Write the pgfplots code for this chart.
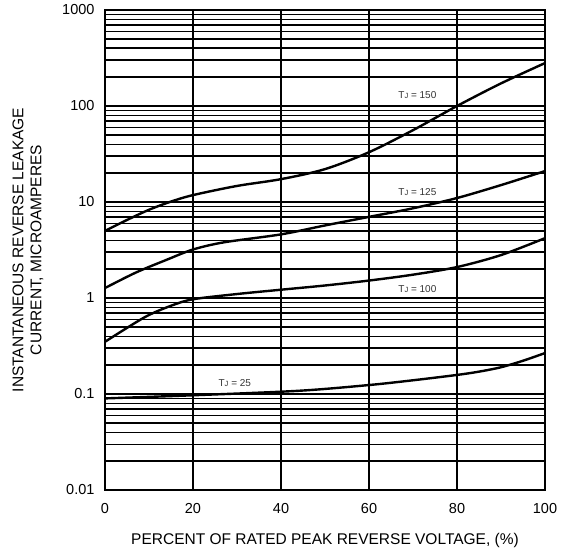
\documentclass[border=0pt]{standalone}
\usepackage{fontspec}
\setmainfont{Liberation Sans}
\usepackage{pgfplots}
\pgfplotsset{compat=1.18}

\newcommand{\tj}[1]{T{\fontsize{7.5}{8}\selectfont J} = #1}

\begin{document}
\begin{tikzpicture}
\begin{axis}[
  scale only axis, width=440pt, height=480pt,
  ymode=log, xmin=0, xmax=100, ymin=0.01, ymax=1000,
  xtick={0,20,40,60,80,100},
  ytick={0.01,0.1,1,10,100,1000},
  yticklabels={0.01,0.1,1,10,100,1000},
  /pgf/number format/assume math mode=true,
  tick label style={font=\fontsize{14.5}{16}\selectfont},
  xticklabel style={yshift=-10pt},
  yticklabel style={xshift=-7pt},
  major tick length=0pt, minor tick length=0pt,
  xmajorgrids, ymajorgrids, yminorgrids,
  y grid style={black, line width=1.4pt},
  minor y grid style={black, line width=1.4pt},
  x grid style={black, line width=1.1pt},
  axis line style={line width=1.6pt},
  xlabel={PERCENT OF RATED PEAK REVERSE VOLTAGE, (\%)},
  ylabel={INSTANTANEOUS REVERSE LEAKAGE\\CURRENT, MICROAMPERES},
  label style={font=\fontsize{15.5}{18}\selectfont},
  xlabel style={at={([yshift=-50pt]axis description cs:0.5,0)}, anchor=center},
  ylabel style={at={([xshift=-77pt]axis description cs:0,0.5)}, anchor=center, align=center},
]
% TJ = 150
\addplot[black, line width=2.4pt, smooth] coordinates {(0,5.0) (5,6.5) (10,8.3) (15,10.1) (20,11.8) (30,14.7) (40,17.3) (50,22) (60,33) (70,56) (80,100) (90,172) (100,280)};
% TJ = 125
\addplot[black, line width=2.4pt, smooth] coordinates {(0,1.27) (7,1.84) (14,2.5) (20,3.2) (27,3.8) (40,4.6) (50,5.7) (60,7.0) (70,8.6) (80,11) (90,15) (100,21)};
% TJ = 100
\addplot[black, line width=2.4pt, smooth] coordinates {(0,0.35) (9,0.63) (15,0.83) (20,0.97) (30,1.1) (40,1.22) (50,1.35) (60,1.52) (70,1.75) (80,2.1) (90,2.8) (100,4.2)};
% TJ = 25
\addplot[black, line width=2.4pt, smooth] coordinates {(0,0.09) (20,0.097) (44,0.108) (60,0.124) (70,0.139) (80,0.158) (85,0.171) (90,0.19) (95,0.222) (100,0.267)};
\node[font=\fontsize{10}{11}\selectfont, text=black!80] at (axis cs:71,130) {\tj{150}};
\node[font=\fontsize{10}{11}\selectfont, text=black!80] at (axis cs:71,12.7) {\tj{125}};
\node[font=\fontsize{10}{11}\selectfont, text=black!80] at (axis cs:71,1.24) {\tj{100}};
\node[font=\fontsize{10}{11}\selectfont, text=black!80] at (axis cs:29.5,0.13) {\tj{25}};
\end{axis}
% page margins as in the reference
\path (current axis.south west) ++(-105pt,-61pt);
\path (current axis.north east) ++(21pt,10pt);
\end{tikzpicture}
\end{document}
